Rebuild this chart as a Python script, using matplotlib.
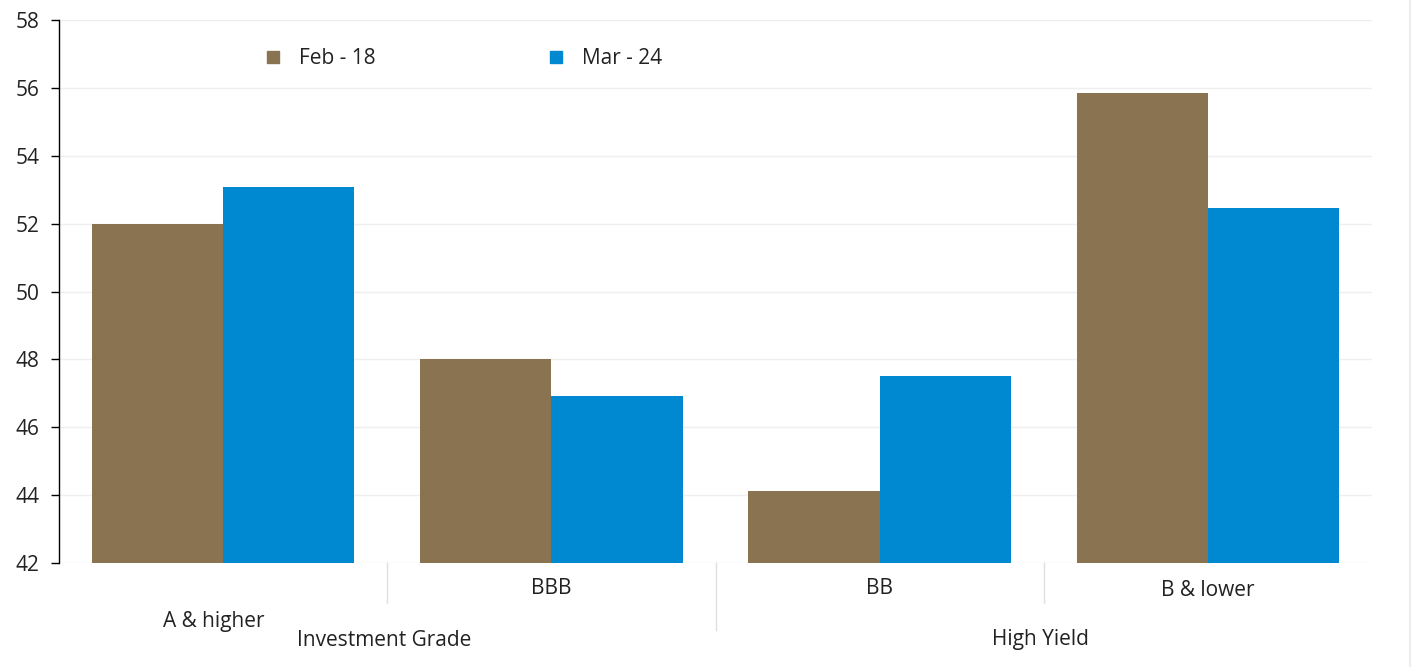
import matplotlib
matplotlib.use("Agg")
import matplotlib.pyplot as plt
from matplotlib.lines import Line2D
import numpy as np

categories = ['A & higher', 'BBB', 'BB', 'B & lower']
groups = ['Investment Grade', 'High Yield']
feb_18 = [52.0, 48.0, 44.12, 55.85]
mar_24 = [53.08, 46.92, 47.51, 52.46]
yticks = [42, 44, 46, 48, 50, 52, 54, 56, 58]

plt.rcParams['font.family'] = ['Open Sans', 'DejaVu Sans']
brown = '#8a7350'
blue = '#0088d1'
txt = '#222222'
grid_c = '#efefef'

fig = plt.figure(figsize=(14.11, 6.67), dpi=100)
ax = fig.add_axes([59 / 1411, 1 - 563 / 667, (1372 - 59) / 1411, (563 - 20) / 667])

x = np.arange(len(categories))
w = 0.4
ax.bar(x - w / 2, feb_18, width=w, color=brown, zorder=3, label='Feb - 18')
ax.bar(x + w / 2, mar_24, width=w, color=blue, zorder=3, label='Mar - 24')

ax.set_xlim(-0.5, len(categories) - 0.5)
ax.set_ylim(42, 58)
ax.set_yticks(yticks)
ax.set_yticklabels([str(t) for t in yticks], fontsize=15, color=txt)
ax.yaxis.grid(True, color=grid_c, linewidth=1, zorder=0)
ax.set_xticks([])
for s in ['top', 'right', 'bottom']:
    ax.spines[s].set_visible(False)
ax.spines['left'].set_color('black')
ax.spines['left'].set_linewidth(1)
ax.tick_params(axis='y', length=6, width=1, color='black', pad=8)

# category labels under the bars
trans = ax.get_xaxis_transform()
px = 1 / 543  # one pixel in axes-y units
label_y = [-58 * px, -25 * px, -25 * px, -28 * px]
label_dx = [-0.03, 0, 0, 0]
for i, c in enumerate(categories):
    ax.text(i + label_dx[i], label_y[i], c, transform=trans, ha='center', va='center',
            fontsize=15, color=txt)

# group labels
group_x = [0.5, 2.5]
for gx, g in zip(group_x, groups):
    ax.text(gx - 0.01, -77 * px, g, transform=trans, ha='center', va='center',
            fontsize=15, color=txt)

# separators
seps = [(0.5, 40), (1.5, 67), (2.5, 40)]
for sx, ln in seps:
    ax.plot([sx, sx], [0, -ln * px], transform=trans, color='#e0e0e0', lw=1,
            clip_on=False)

# right border line
fig.add_artist(Line2D([1409.5 / 1411, 1409.5 / 1411], [0, 1], color='#ececec', lw=1.5))

handles = [Line2D([], [], marker='s', ls='none', color=brown, markersize=8.5),
           Line2D([], [], marker='s', ls='none', color=blue, markersize=8.5)]
leg = fig.legend(handles, ['Feb - 18', 'Mar - 24'], loc='center left',
                 bbox_to_anchor=(264 / 1411, 1 - 59 / 667), ncol=2, frameon=False,
                 fontsize=15, handlelength=0.9, handletextpad=0.8,
                 columnspacing=8.2, borderpad=0, borderaxespad=0)
for t in leg.get_texts():
    t.set_color(txt)

fig.savefig('out.png', dpi=100, facecolor='white')
